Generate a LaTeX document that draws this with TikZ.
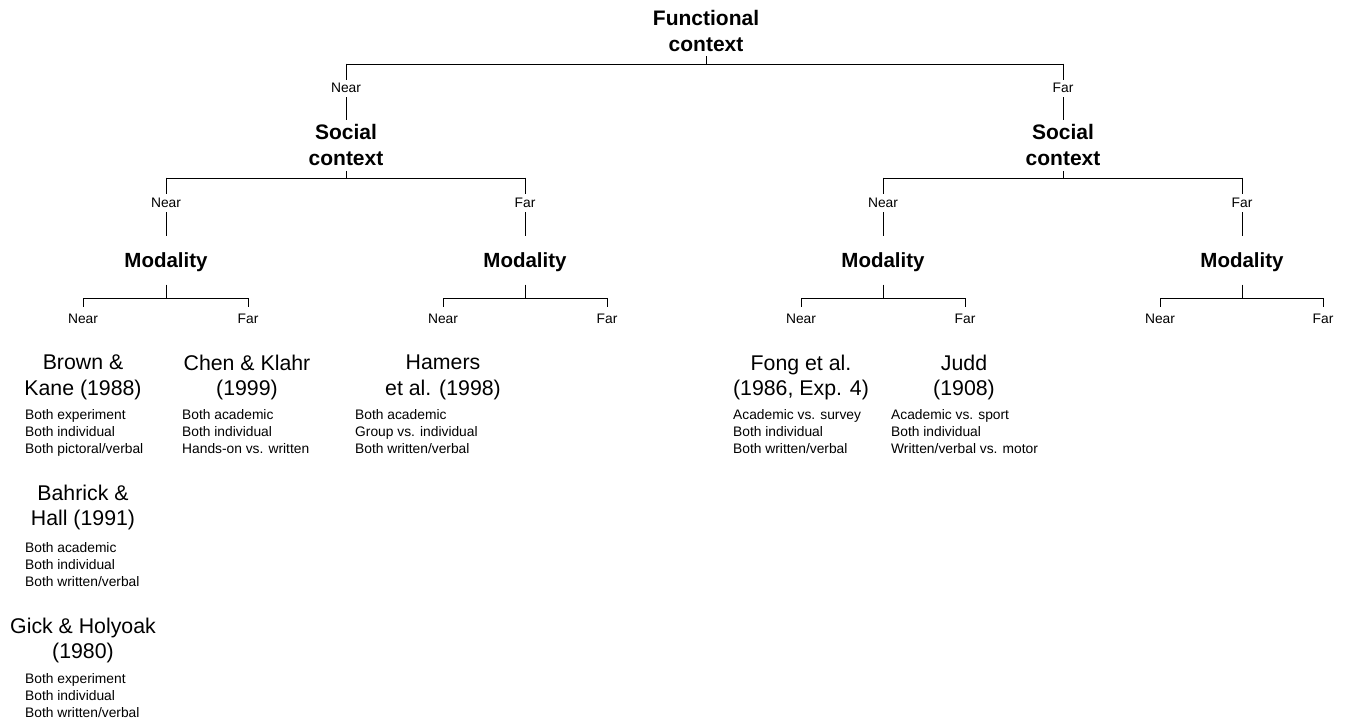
\documentclass[tikz,border=0pt]{standalone}
\usepackage{fontspec}
\setmainfont{Liberation Sans}
\begin{document}
\begin{tikzpicture}[x=1pt,y=-1pt,
  hdr/.style={font=\fontsize{21}{26.5}\selectfont\bfseries, align=center, inner sep=0pt, anchor=north},
  mody/.style={font=\fontsize{20.5}{24}\selectfont\bfseries, inner sep=0pt, anchor=base},
  lbl/.style={font=\fontsize{13.8}{16}\selectfont, inner sep=0pt, anchor=base},
  cite/.style={font=\fontsize{21.3}{25.5}\selectfont, align=center, inner sep=0pt, anchor=north},
  desc/.style={font=\fontsize{13.8}{16.8}\selectfont, align=left, inner sep=0pt, anchor=north west},
  ln/.style={line width=0.9pt, line cap=rect}]
\useasboundingbox (0,0) rectangle (1346,722);
\fill[white] (0,0) rectangle (1346,722);

% ---------- top level ----------
\node[hdr] (fc) at (706,10) {Functional\\context};
\coordinate (j0) at (706,64);
\coordinate (jA) at (346,64);
\coordinate (jB) at (1063,64);
\node[lbl] (lA) at (346,92.5) {Near};
\node[lbl] (lB) at (1063,92.5) {Far};
\node[hdr] (scA) at (346,124) {Social\\context};
\node[hdr] (scB) at (1063,124) {Social\\context};
\draw[ln, shorten <=4pt] (fc.south) -- (j0);
\draw[ln] (jA) -- (jB);
\foreach \n/\j/\s in {lA/jA/scA, lB/jB/scB}{
  \draw[ln, shorten >=3pt] (\j) -- (\n.north);
  \draw[ln, shorten <=4.5pt, shorten >=4pt] (\n.south) -- (\s.north);
}

% ---------- social level ----------
\coordinate (kA) at (346,178);
\coordinate (kA1) at (166,178);
\coordinate (kA2) at (525,178);
\coordinate (kB) at (1063,178);
\coordinate (kB1) at (883,178);
\coordinate (kB2) at (1242,178);
\draw[ln, shorten <=5pt] (scA.south) -- (kA);
\draw[ln, shorten <=5pt] (scB.south) -- (kB);
\draw[ln] (kA1) -- (kA2);
\draw[ln] (kB1) -- (kB2);
\node[lbl] (lA1) at (166,207.5) {Near};
\node[lbl] (lA2) at (525,207.5) {Far};
\node[lbl] (lB1) at (883,207.5) {Near};
\node[lbl] (lB2) at (1242,207.5) {Far};
\node[mody] (mA1) at (166,267) {Modality};
\node[mody] (mA2) at (525,267) {Modality};
\node[mody] (mB1) at (883,267) {Modality};
\node[mody] (mB2) at (1242,267) {Modality};
\foreach \k/\n/\m in {kA1/lA1/mA1, kA2/lA2/mA2, kB1/lB1/mB1, kB2/lB2/mB2}{
  \draw[ln, shorten >=4.5pt] (\k) -- (\n.north);
  \draw[ln, shorten <=4.5pt, shorten >=16.5pt] (\n.south) -- (\m.north);
}

% ---------- modality level ----------
\foreach \m/\x/\a/\b in {mA1/166/83/248, mA2/525/443/607, mB1/883/801/965, mB2/1242/1160/1323}{
  \coordinate (p\m) at (\x,298);
  \coordinate (pl\m) at (\a,298);
  \coordinate (pr\m) at (\b,298);
  \draw[ln, shorten <=13.5pt] (\m.south) -- (p\m);
  \draw[ln] (pl\m) -- (pr\m);
  \node[lbl] (nl\m) at (\a,323) {Near};
  \node[lbl] (nr\m) at (\b,323) {Far};
  \draw[ln, shorten >=6.5pt] (pl\m) -- (nl\m.north);
  \draw[ln, shorten >=6.5pt] (pr\m) -- (nr\m.north);
}

% ---------- studies ----------
\node[cite] (c1) at (83,354.8) {Brown \&\\Kane (1988)};
\node[desc] (d1) at (25,409.2) {Both experiment\\Both individual\\Both pictoral/verbal};
\node[cite] (c2) at (83,484.8) {Bahrick \&\\Hall (1991)};
\node[desc] (d2) at (25,542.2) {Both academic\\Both individual\\Both written/verbal};
\node[cite] (c3) at (83,617.8) {Gick \& Holyoak\\(1980)};
\node[desc] (d3) at (25,673.2) {Both experiment\\Both individual\\Both written/verbal};

\node[cite] (c4) at (247,354.8) {Chen \& Klahr\\(1999)};
\node[desc] (d4) at (182,409.2) {Both academic\\Both individual\\Hands-on vs. written};

\node[cite] (c5) at (443,354.8) {Hamers\\et al. (1998)};
\node[desc] (d5) at (355,409.2) {Both academic\\Group vs. individual\\Both written/verbal};

\node[cite] (c6) at (801,354.8) {Fong et al.\\(1986, Exp. 4)};
\node[desc] (d6) at (733,409.2) {Academic vs. survey\\Both individual\\Both written/verbal};

\node[cite] (c7) at (964,354.8) {Judd\\(1908)};
\node[desc] (d7) at (891,409.2) {Academic vs. sport\\Both individual\\Written/verbal vs. motor};
\end{tikzpicture}
\end{document}
